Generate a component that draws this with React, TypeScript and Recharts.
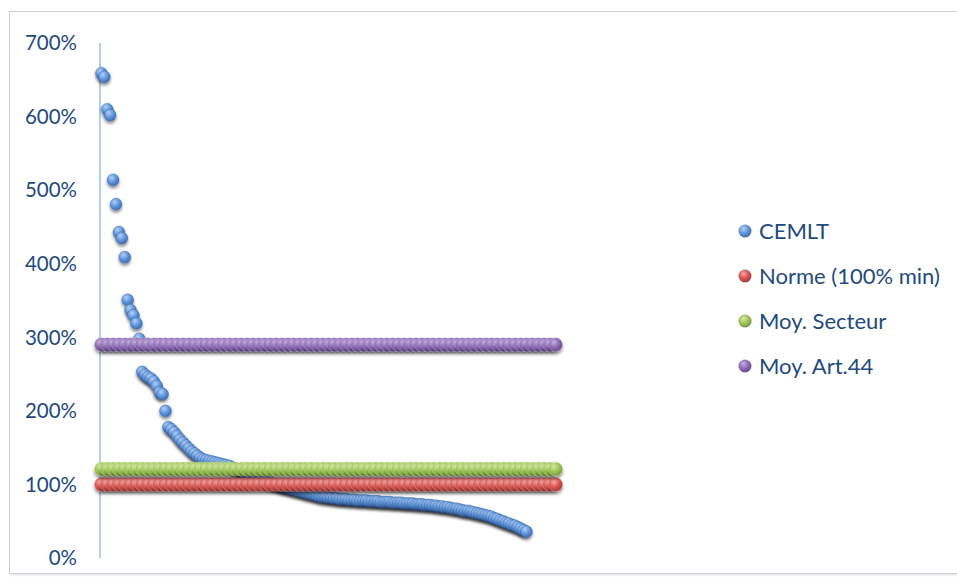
import React from 'react';
import { ScatterChart, Scatter, XAxis, YAxis, Legend } from 'recharts';

// CEMLT coverage ratio (%) per entity, sorted in descending order
const cemltValues = [
  659, 654, 610, 602, 514, 481, 443, 435, 409, 351,
  337, 330, 319, 298, 253, 249, 246, 244, 240, 234,
  225, 223, 200, 178, 175, 171, 166, 161, 157, 153,
  149, 145, 142, 139, 136, 134, 133, 132, 131, 130,
  129, 128, 127, 126, 125, 123, 121, 120, 118, 117,
  115, 113, 112, 110, 109, 107, 106, 104, 102, 101,
  100, 99, 97, 96, 95, 94, 93, 92, 91, 90,
  89, 88, 87, 86, 85, 84, 83, 83, 82, 82,
  81, 81, 80, 80, 80, 79, 79, 79, 78, 78,
  78, 78, 77, 77, 77, 77, 76, 76, 76, 76,
  75, 75, 75, 75, 74, 74, 74, 74, 73, 73,
  73, 72, 72, 72, 71, 71, 70, 70, 69, 69,
  68, 67, 67, 66, 65, 64, 64, 63, 62, 61,
  60, 59, 58, 57, 56, 54, 53, 51, 50, 48,
  47, 45, 44, 42, 40, 38, 36,
];

// Reference levels (%)
const normeLevel = 100;
const secteurLevel = 121;
const art44Level = 290;

// Y axis ticks (%)
const yTicks = [0, 100, 200, 300, 400, 500, 600, 700];

// Series names
const seriesNames = ['CEMLT', 'Norme (100% min)', 'Moy. Secteur', 'Moy. Art.44'];

// Positions along the horizontal axis where the reference levels are plotted
const levelRanks = Array.from({ length: 79 }, (_, k) => 1 + 2 * k);

const cemltData = cemltValues.map((v, i) => ({ x: i + 1, y: v }));
const normeData = levelRanks.map((x) => ({ x, y: normeLevel }));
const secteurData = levelRanks.map((x) => ({ x, y: secteurLevel }));
const art44Data = levelRanks.map((x) => ({ x, y: art44Level }));

const gradients = [
  { id: 'gBlue', light: '#b3d0f5', mid: '#5f95dc', dark: '#3d6db5' },
  { id: 'gRed', light: '#f4a7a3', mid: '#d9534f', dark: '#a53a36' },
  { id: 'gGreen', light: '#d5eaa6', mid: '#9cc455', dark: '#779a38' },
  { id: 'gPurple', light: '#c6b0de', mid: '#8e69b5', dark: '#694a8c' },
];

const TEXT = '#1f4a7e';
const FONT = 'Lato, "Open Sans", sans-serif';

const makeDot = (grad: string, r: number, rim: string) => (props: any) => {
  const { cx, cy } = props;
  if (cx == null || cy == null) return <g />;
  return (
    <circle
      cx={cx}
      cy={cy}
      r={r}
      fill={`url(#${grad})`}
      stroke={rim}
      strokeWidth={0.6}
      strokeOpacity={0.55}
      filter="url(#dotShadow)"
    />
  );
};

const legendItems = [
  { name: seriesNames[0], grad: 'gBlue' },
  { name: seriesNames[1], grad: 'gRed' },
  { name: seriesNames[2], grad: 'gGreen' },
  { name: seriesNames[3], grad: 'gPurple' },
];

const renderLegend = () => (
  <div style={{ fontFamily: FONT, fontSize: 22, color: TEXT }}>
    {legendItems.map((it) => (
      <div key={it.name} style={{ display: 'flex', alignItems: 'center', height: 45 }}>
        <svg width={16} height={16} style={{ marginRight: 6 }}>
          <circle cx={8} cy={8} r={6.3} fill={`url(#${it.grad})`} stroke="#555" strokeOpacity={0.35} strokeWidth={0.7} />
        </svg>
        <span>{it.name}</span>
      </div>
    ))}
  </div>
);

export default function App() {
  return (
    <div style={{ position: 'absolute', left: 0, top: 0, width: 957, height: 577, background: '#fff', overflow: 'hidden' }}>
      <div
        style={{
          position: 'absolute',
          left: 9,
          top: 11,
          width: 970,
          height: 563,
          border: '1px solid #c9d0da',
          boxShadow: '1px 1px 2px rgba(0,0,0,0.12)',
          boxSizing: 'border-box',
        }}
      />
      <svg width={0} height={0} style={{ position: 'absolute' }}>
        <defs>
          {gradients.map((g) => (
            <radialGradient key={g.id} id={g.id} cx="38%" cy="32%" r="70%">
              <stop offset="0%" stopColor={g.light} />
              <stop offset="55%" stopColor={g.mid} />
              <stop offset="100%" stopColor={g.dark} />
            </radialGradient>
          ))}
        </defs>
      </svg>
      <div style={{ position: 'absolute', left: 0, top: 0 }}>
        <ScatterChart width={957} height={577} margin={{ top: 43, right: 400, bottom: 19, left: 0 }}>
          <defs>
            <filter id="dotShadow" x="-60%" y="-60%" width="220%" height="240%">
              <feDropShadow dx="0" dy="2.5" stdDeviation="1.6" floodColor="#000" floodOpacity="0.45" />
            </filter>
          </defs>
          <XAxis type="number" dataKey="x" domain={[0.5, 157.5]} hide />
          <YAxis
            type="number"
            dataKey="y"
            domain={[0, 700]}
            ticks={yTicks}
            width={100}
            tickLine={false}
            tickSize={0}
            tickMargin={23}
            axisLine={{ stroke: '#84ace3', strokeWidth: 1.2 }}
            tickFormatter={(v: number) => `${v}%`}
            tick={{ fill: TEXT, fontSize: 20.5, fontFamily: FONT }}
          />
          <Legend
            layout="vertical"
            align="center"
            verticalAlign="middle"
            wrapperStyle={{ left: 737, top: 208, width: 220 }}
            content={renderLegend}
          />
          <Scatter name={seriesNames[0]} data={cemltData} isAnimationActive={false} shape={makeDot('gBlue', 6, '#2f5d9e')} />
          <Scatter name={seriesNames[1]} data={normeData} isAnimationActive={false} shape={makeDot('gRed', 7, '#f2b0ad')} />
          <Scatter name={seriesNames[2]} data={secteurData} isAnimationActive={false} shape={makeDot('gGreen', 7, '#dbeeb0')} />
          <Scatter name={seriesNames[3]} data={art44Data} isAnimationActive={false} shape={makeDot('gPurple', 7, '#cdb8e4')} />
        </ScatterChart>
      </div>
    </div>
  );
}
